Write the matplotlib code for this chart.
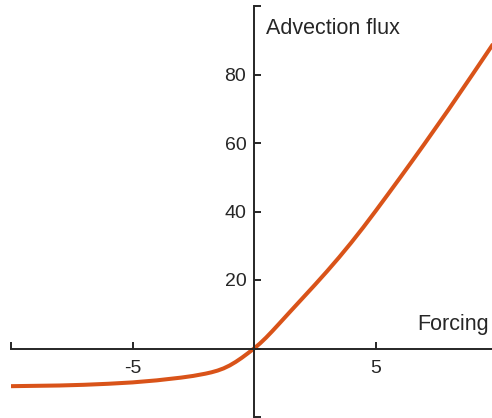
import matplotlib
matplotlib.use("Agg")
import matplotlib.pyplot as plt

# Forcing values and the resulting advection flux
forcing = [-10, -9, -8, -7, -6, -5, -4.5, -4, -3.5, -3, -2.5, -2, -1.75,
           -1.5, -1.25, -1, -0.75, -0.5, -0.25, 0, 0.25, 0.5, 0.75, 1,
           1.5, 2, 2.5, 3, 3.5, 4, 4.5, 5, 5.5, 6, 6.5, 7, 8, 9, 10]
flux = [-11.0, -10.9, -10.8, -10.6, -10.3, -9.9, -9.6, -9.3, -8.9, -8.5,
        -8.0, -7.35, -6.95, -6.45, -5.8, -4.95, -3.9, -2.7, -1.38, 0.0,
        1.5, 3.2, 5.05, 6.97, 10.85, 14.7, 18.55, 22.5, 26.6, 30.9, 35.4,
        40.1, 44.9, 49.75, 54.65, 59.6, 69.7, 80.1, 90.6]

x_ticks = [-10, -5, 0, 5, 10]
x_tick_labels = ["", "-5", "", "5", ""]
y_ticks = [-20, 0, 20, 40, 60, 80, 100]
y_tick_labels = ["", "", "20", "40", "60", "80", ""]

plt.rcParams["font.family"] = ["Liberation Sans", "DejaVu Sans"]
ink = "#262626"

W, H = 492, 418
fig = plt.figure(figsize=(W / 100, H / 100), dpi=100)
x_left, px_per_x = 11, 24.3
y_bottom, px_per_y = 417, 3.425
ax = fig.add_axes([x_left / W, (H - y_bottom) / H,
                   20 * px_per_x / W, 120 * px_per_y / H])

ax.plot(forcing, flux, color="#D95319", lw=2.9, solid_capstyle="butt",
        solid_joinstyle="round")

ax.set_xlim(-10, 10)
ax.set_ylim(-20, 100)

for side in ("top", "right"):
    ax.spines[side].set_visible(False)
ax.spines["left"].set_position(("data", 0))
ax.spines["bottom"].set_position(("data", 0))
for side in ("left", "bottom"):
    ax.spines[side].set_color(ink)
    ax.spines[side].set_linewidth(1.4)

ax.set_xticks(x_ticks)
ax.set_xticklabels(x_tick_labels)
ax.set_yticks(y_ticks)
ax.set_yticklabels(y_tick_labels)
ax.tick_params(direction="in", length=5, width=1.4, color=ink,
               labelcolor=ink, labelsize=14)
ax.tick_params(axis="x", pad=8.5)
ax.tick_params(axis="y", pad=5.5)

ax.text(0.5, 93.3, "Advection flux", fontsize=15.5, color=ink,
        ha="left", va="center")
ax.text(9.67, 7.0, "Forcing", fontsize=15.5, color=ink, ha="right",
        va="center")

fig.savefig("out.png", dpi=100)
